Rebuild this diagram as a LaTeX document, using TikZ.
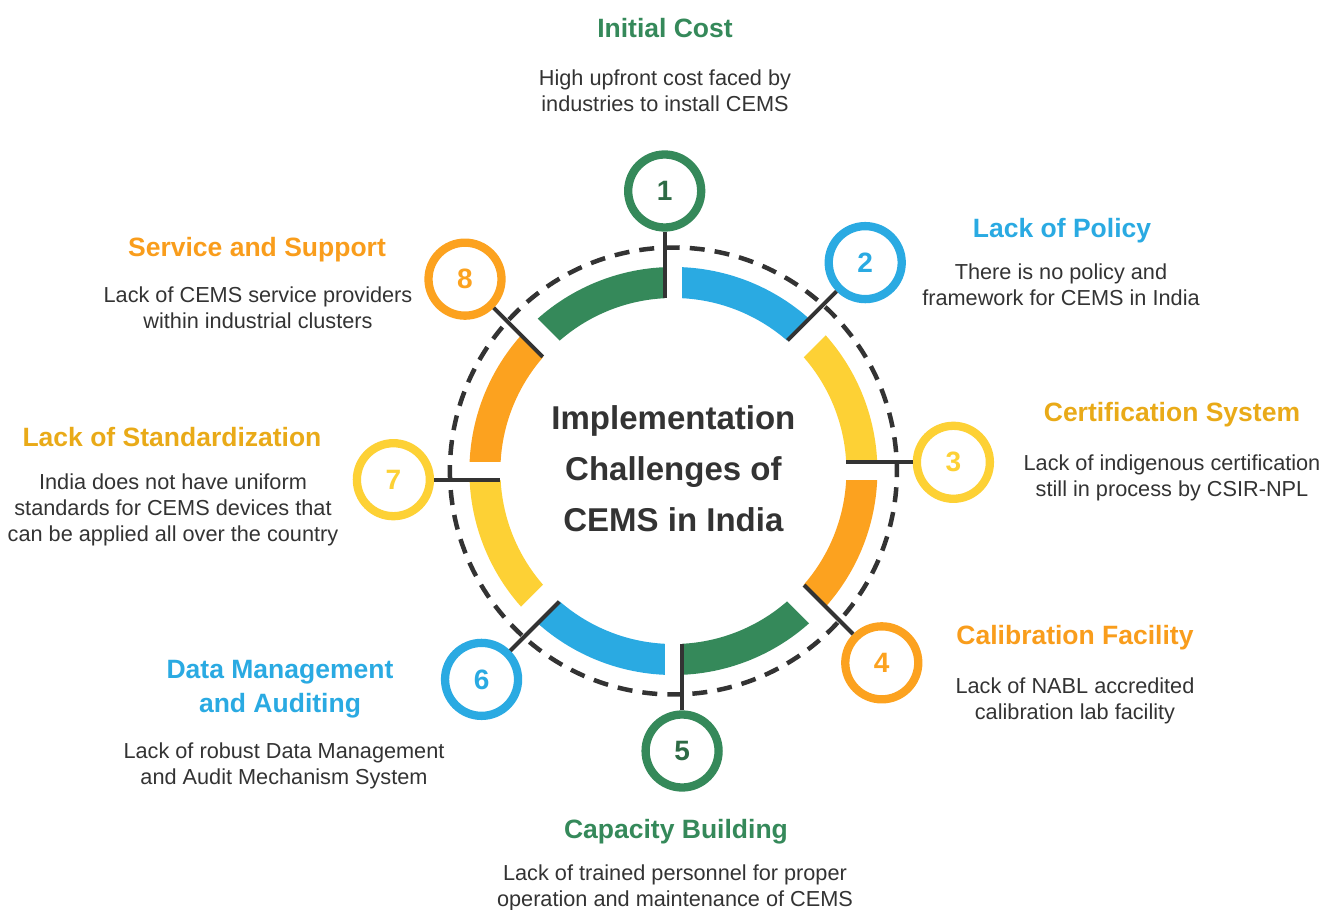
\documentclass[tikz,border=0pt]{standalone}
\usepackage{fontspec}
\setmainfont{Liberation Sans}
\usetikzlibrary{calc}

\definecolor{ink}{HTML}{333333}
\definecolor{cgreen}{HTML}{35895A}
\definecolor{cgreendk}{HTML}{2E6B45}
\definecolor{cblue}{HTML}{2AAAE2}
\definecolor{cyellow}{HTML}{FDD135}
\definecolor{cyellowdk}{HTML}{E9AA18}
\definecolor{corange}{HTML}{FCA21F}
\definecolor{corangedk}{HTML}{F99D1C}

\begin{document}
\begin{tikzpicture}[x=1pt, y=1pt,
    ringseg/.style={line width=31pt},
    ringgap/.style={draw=white, line width=#1},
    dashring/.style={draw=ink, line width=4.5pt, dash pattern=on 15pt off 10.07pt},
    stem/.style={draw=ink, line width=4pt},
    numc/.style={circle, draw=#1, text=#1, fill=white, line width=8.3pt, minimum size=73pt, inner sep=0pt,
                 font=\fontsize{28}{30}\selectfont\bfseries},
    ttl/.style={text=#1, align=center, font=\fontsize{26.5}{34}\selectfont\bfseries},
    desc/.style={text=ink, align=center, font=\fontsize{21.7}{26}\selectfont},
  ]
    \useasboundingbox (-673.4,-439) rectangle (652.6,471);

    % coloured ring, one 45 degree piece per challenge
    \draw[ringseg, cgreen]  (90:188.5)   arc[start angle=90,   end angle=135,  radius=188.5];
    \draw[ringseg, cblue]   (45:188.5)   arc[start angle=45,   end angle=90,   radius=188.5];
    \draw[ringseg, cyellow] (0:188.5)    arc[start angle=0,    end angle=45,   radius=188.5];
    \draw[ringseg, corange] (-45:188.5)  arc[start angle=-45,  end angle=0,    radius=188.5];
    \draw[ringseg, cgreen]  (-90:188.5)  arc[start angle=-90,  end angle=-45,  radius=188.5];
    \draw[ringseg, cblue]   (-135:188.5) arc[start angle=-135, end angle=-90,  radius=188.5];
    \draw[ringseg, cyellow] (180:188.5)  arc[start angle=180,  end angle=225,  radius=188.5];
    \draw[ringseg, corange] (135:188.5)  arc[start angle=135,  end angle=180,  radius=188.5];

    % white cuts between the pieces
    \draw[ringgap=17.4pt] (90:165)  -- (90:212);
    \draw[ringgap=23.4pt] (45:165)  -- (45:212);
    \draw[ringgap=17.4pt] (0:165)   -- (0:212);
    \draw[ringgap=23.4pt] (-45:165) -- (-45:212);
    \draw[ringgap=17.4pt] (-90:165) -- (-90:212);
    \draw[ringgap=23.4pt] (-135:165) -- (-135:212);
    \draw[ringgap=17.4pt] (180:165) -- (180:212);
    \draw[ringgap=23.4pt] (135:165) -- (135:212);

    % dashed outer track
    \draw[dashring] (92.23:223.5) arc[start angle=92.23, end angle=-267.77, radius=223.5];

    \node[text=ink, align=center, font=\fontsize{33}{51}\selectfont\bfseries] (hub) at (0,2)
      {Implementation\\Challenges of\\CEMS in India};

    % numbered markers
    \node[numc=cgreen, text=cgreendk] (n1) at ($(90:280)+(180:8.7)$)   {1};
    \node[numc=cblue]                 (n2) at ($(45:283)+(135:11.7)$)  {2};
    \node[numc=cyellow]               (n3) at ($(0:280)+(90:8.7)$)     {3};
    \node[numc=corange]               (n4) at ($(-45:283)+(45:11.7)$)  {4};
    \node[numc=cgreen, text=cgreendk] (n5) at ($(-90:280)+(0:8.7)$)    {5};
    \node[numc=cblue]                 (n6) at ($(-135:283)+(-45:11.7)$) {6};
    \node[numc=cyellow]               (n7) at ($(180:280)+(270:8.7)$)  {7};
    \node[numc=corange]               (n8) at ($(135:283)+(225:11.7)$) {8};

    \coordinate (s1) at ($(90:173)+(180:8.7)$);
    \coordinate (s2) at ($(45:173)+(135:11.7)$);
    \coordinate (s3) at ($(0:173)+(90:8.7)$);
    \coordinate (s4) at ($(-45:173)+(45:11.7)$);
    \coordinate (s5) at ($(-90:173)+(0:8.7)$);
    \coordinate (s6) at ($(-135:173)+(-45:11.7)$);
    \coordinate (s7) at ($(180:173)+(270:8.7)$);
    \coordinate (s8) at ($(135:173)+(225:11.7)$);

    \draw[stem] (s1) -- (n1);
    \draw[stem] (s2) -- (n2);
    \draw[stem] (s3) -- (n3);
    \draw[stem] (s4) -- (n4);
    \draw[stem] (s5) -- (n5);
    \draw[stem] (s6) -- (n6);
    \draw[stem] (s7) -- (n7);
    \draw[stem] (s8) -- (n8);

    % labels
    \node[ttl=cgreen] (t1) at (-8.4,443) {Initial Cost};
    \node[desc] (d1) at (-8.4,380.5) {High upfront cost faced by\\industries to install CEMS};

    \node[ttl=cblue] (t2) at (388.6,240) {Lack of Policy};
    \node[desc] (d2) at (387.6,186) {There is no policy and\\framework for CEMS in India};

    \node[ttl=cyellowdk] (t3) at (498.6,56) {Certification System};
    \node[desc] (d3) at (498.6,-6.5) {Lack of indigenous certification\\still in process by CSIR-NPL};

    \node[ttl=corangedk] (t4) at (401.6,-167) {Calibration Facility};
    \node[desc] (d4) at (401.6,-229.5) {Lack of NABL accredited\\calibration lab facility};

    \node[ttl=cgreen] (t5) at (2.6,-361) {Capacity Building};
    \node[desc] (d5) at (1.6,-416.5) {Lack of trained personnel for proper\\operation and maintenance of CEMS};

    \node[ttl=cblue] (t6) at (-393.4,-218) {Data Management\\and Auditing};
    \node[desc] (d6) at (-389.4,-295) {Lack of robust Data Management\\and Audit Mechanism System};

    \node[ttl=cyellowdk] (t7) at (-501.4,34) {Lack of Standardization};
    \node[desc] (d7) at (-500.4,-38.5) {India does not have uniform\\standards for CEMS devices that\\can be applied all over the country};

    \node[ttl=corangedk] (t8) at (-416.4,221) {Service and Support};
    \node[desc] (d8) at (-415.4,163) {Lack of CEMS service providers\\within industrial clusters};
  \end{tikzpicture}
\end{document}
